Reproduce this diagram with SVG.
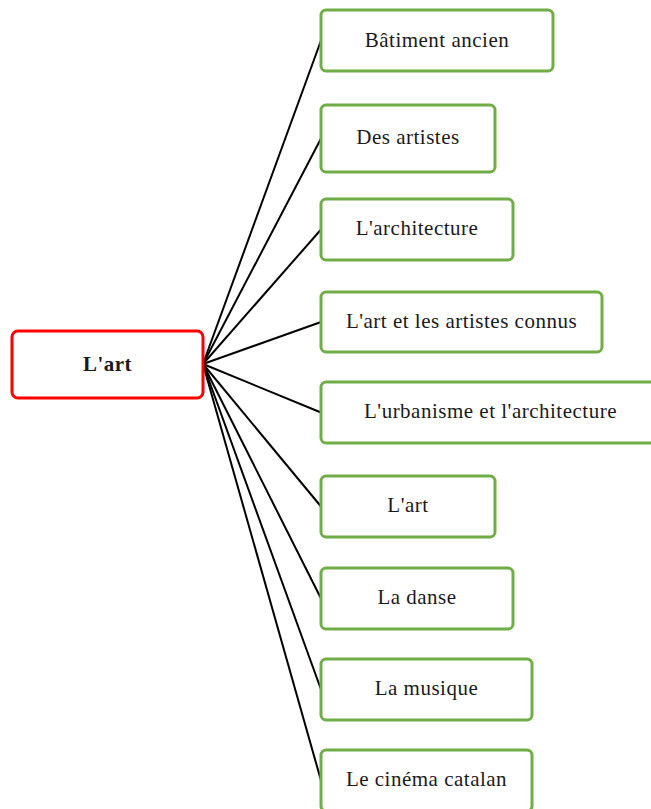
<svg xmlns="http://www.w3.org/2000/svg" width="651" height="809" viewBox="0 0 651 809">
<style>
.leaf rect{fill:#fff;stroke:#70AD47;stroke-width:3}
.root rect{fill:#fff;stroke:#FF0000;stroke-width:3}
text{font-family:"Liberation Serif","Times New Roman",serif;font-size:21px;letter-spacing:0.5px;fill:#1a1a1a;text-anchor:middle}
.root text{font-weight:bold}
#connectors line{stroke:#000;stroke-width:2}
</style>
<rect width="651" height="809" fill="#fff"/>
<g id="connectors">
<line x1="203" y1="364" x2="321" y2="40.5"/>
<line x1="203" y1="364" x2="321" y2="138.5"/>
<line x1="203" y1="364" x2="321" y2="229.5"/>
<line x1="203" y1="364" x2="321" y2="322"/>
<line x1="203" y1="364" x2="321" y2="412.5"/>
<line x1="203" y1="364" x2="321" y2="506.5"/>
<line x1="203" y1="364" x2="321" y2="598.5"/>
<line x1="203" y1="364" x2="321" y2="689.5"/>
<line x1="203" y1="364" x2="321" y2="780.5"/>
</g>
<g id="root" class="root">
<rect x="12" y="331" width="191" height="67" rx="6"/>
<text x="107.5" y="371">L'art</text>
</g>
<g id="n1" class="leaf"><rect x="321" y="10" width="232" height="61" rx="5"/><text x="437" y="47">Bâtiment ancien</text></g>
<g id="n2" class="leaf"><rect x="321" y="105" width="174" height="67" rx="5"/><text x="408" y="144">Des artistes</text></g>
<g id="n3" class="leaf"><rect x="321" y="199" width="192" height="61" rx="5"/><text x="417" y="235">L'architecture</text></g>
<g id="n4" class="leaf"><rect x="321" y="292" width="281" height="60" rx="5"/><text x="461.5" y="328">L'art et les artistes connus</text></g>
<g id="n5" class="leaf"><rect x="321" y="382" width="340" height="61" rx="5"/><text x="490.5" y="418">L'urbanisme et l'architecture</text></g>
<g id="n6" class="leaf"><rect x="321" y="476" width="174" height="61" rx="5"/><text x="408" y="512">L'art</text></g>
<g id="n7" class="leaf"><rect x="321" y="568" width="192" height="61" rx="5"/><text x="417" y="604">La danse</text></g>
<g id="n8" class="leaf"><rect x="321" y="659" width="211" height="61" rx="5"/><text x="426.5" y="695">La musique</text></g>
<g id="n9" class="leaf"><rect x="321" y="750" width="211" height="61" rx="5"/><text x="426.5" y="786">Le cinéma catalan</text></g>
</svg>
